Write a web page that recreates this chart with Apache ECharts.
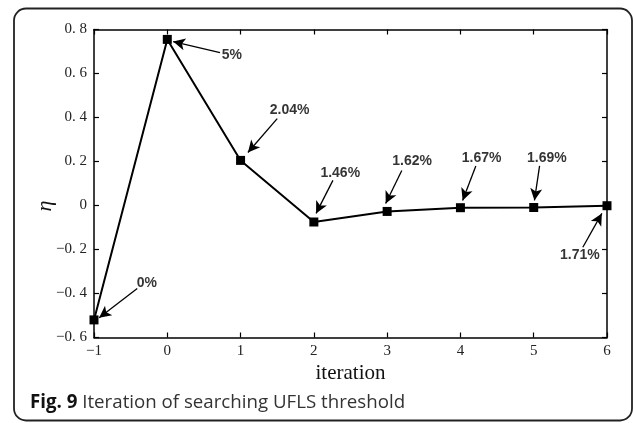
<!DOCTYPE html>
<html>
<head>
<meta charset="utf-8">
<script src="https://cdn.jsdelivr.net/npm/echarts@6/dist/echarts.min.js"></script>
<style>
  html, body { margin: 0; padding: 0; background: #fff; }
  #chart { width: 633px; height: 423px; }
</style>
</head>
<body>
<div id="chart"></div>
<script>
// Iteration index and eta value at each step
const iterations = [-1, 0, 1, 2, 3, 4, 5, 6];
const etaValues = [-0.52, 0.755, 0.205, -0.075, -0.027, -0.01, -0.009, -0.001];

// Threshold callouts: text, text centre, arrow tail, arrow head (data coordinates)
const calloutText = ['0%', '5%', '2.04%', '1.46%', '1.62%', '1.67%', '1.69%', '1.71%'];
const calloutTextAt = [[-0.28, -0.355], [0.88, 0.682], [1.67, 0.432], [2.36, 0.145], [3.34, 0.2], [4.29, 0.214], [5.18, 0.214], [5.63, -0.227]];
const calloutTail = [[-0.41, -0.377], [0.72, 0.695], [1.5, 0.395], [2.26, 0.114], [3.2, 0.159], [4.21, 0.18], [5.08, 0.18], [5.67, -0.19]];
const calloutHead = [[-0.93, -0.51], [0.08, 0.745], [1.1, 0.241], [2.03, -0.036], [2.98, 0.009], [4.03, 0.023], [5.01, 0.023], [5.93, -0.036]];

const xMin = -1, xMax = 6, yMin = -0.6, yMax = 0.8;

function fmtY(v) {
  if (Math.abs(v) < 1e-9) return '0';
  return (v < 0 ? '\u2212' : '') + Math.abs(v).toFixed(1).replace('.', '. ');
}
function fmtX(v) {
  return (v < 0 ? '\u2212' : '') + Math.abs(v);
}

const serif = 'Liberation Serif';
const tickCommon = { show: true, inside: true, length: 5, lineStyle: { color: '#000', width: 1.2 } };
const lineCommon = { show: true, onZero: false, lineStyle: { color: '#000', width: 1.5 } };

const chart = echarts.init(document.getElementById('chart'));
chart.setOption({
  animation: false,
  backgroundColor: '#fff',
  grid: { left: 94, right: 26, top: 29.5, bottom: 85.5, containLabel: false },
  xAxis: [
    {
      type: 'value', min: xMin, max: xMax, interval: 1, position: 'bottom',
      axisLine: lineCommon, axisTick: tickCommon, splitLine: { show: false },
      axisLabel: { formatter: fmtX, color: '#222', fontFamily: serif, fontSize: 15, margin: 6 },
      name: 'iteration', nameLocation: 'middle', nameGap: 25,
      nameTextStyle: { fontFamily: serif, fontSize: 21, color: '#111' }
    },
    {
      type: 'value', min: xMin, max: xMax, interval: 1, position: 'top',
      axisLine: lineCommon, axisTick: tickCommon, splitLine: { show: false },
      axisLabel: { show: false }
    }
  ],
  yAxis: [
    {
      type: 'value', min: yMin, max: yMax, interval: 0.2, position: 'left',
      axisLine: lineCommon, axisTick: tickCommon, splitLine: { show: false },
      axisLabel: { formatter: fmtY, color: '#222', fontFamily: serif, fontSize: 15, margin: 7 },
      name: '\u03b7', nameLocation: 'middle', nameGap: 38, nameRotate: 90,
      nameMoveOverlap: false,
      nameTextStyle: { fontFamily: serif, fontStyle: 'italic', fontSize: 22, color: '#111', padding: [0, 45, 0, 0] }
    },
    {
      type: 'value', min: yMin, max: yMax, interval: 0.2, position: 'right',
      axisLine: lineCommon, axisTick: tickCommon, splitLine: { show: false },
      axisLabel: { show: false }
    }
  ],
  series: [
    {
      type: 'line',
      data: iterations.map((x, i) => [x, etaValues[i]]),
      symbol: 'rect', symbolSize: 9,
      lineStyle: { color: '#000', width: 2 },
      itemStyle: { color: '#000' },
      z: 3,
      markLine: {
        silent: true,
        symbol: ['none', 'arrow'],
        symbolSize: [9, 12],
        label: { show: false },
        lineStyle: { color: '#000', width: 1.3, type: 'solid' },
        data: calloutTail.map((t, i) => [
          { coord: t },
          { coord: calloutHead[i] }
        ])
      }
    },
    {
      type: 'scatter',
      data: calloutTextAt.map((p, i) => ({ value: p, name: calloutText[i] })),
      symbolSize: 0,
      silent: true,
      label: {
        show: true, position: 'inside', formatter: p => p.name,
        fontFamily: 'Liberation Sans', fontWeight: 'bold', fontSize: 14, color: '#000'
      },
      z: 4
    }
  ],
  graphic: [
    {
      type: 'rect',
      shape: { x: 14, y: 8.5, width: 618, height: 412, r: 12 },
      style: { fill: 'none', stroke: '#222', lineWidth: 1.8 },
      silent: true
    },
    {
      type: 'text',
      left: 30, top: 393,
      style: {
        text: '{b|Fig. 9} Iteration of searching UFLS threshold',
        fontFamily: 'Open Sans', fontSize: 18.7, fill: '#333',
        rich: { b: { fontFamily: 'Open Sans', fontWeight: 'bold', fontSize: 18.7, fill: '#111' } }
      }
    }
  ]
});
</script>
</body>
</html>
